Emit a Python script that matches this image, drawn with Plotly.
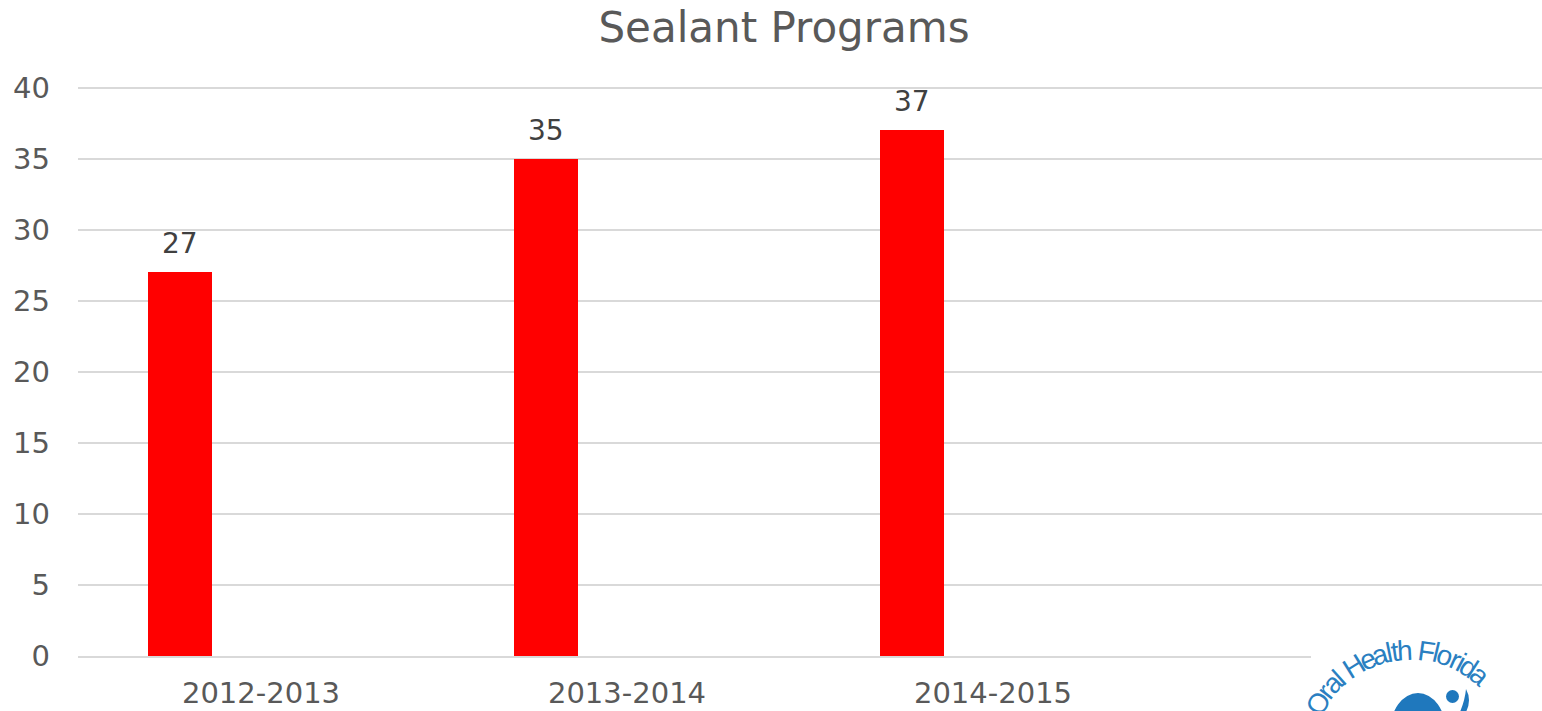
import math
import plotly.graph_objects as go

categories = ["2012-2013", "2013-2014", "2014-2015"]
programs = [27, 35, 37]
y_ticks = [0, 5, 10, 15, 20, 25, 30, 35, 40]
title_text = "Sealant Programs"
logo_text = "Oral Health Florida"

W, H = 1542, 711
L, T, B = 78, 85, 55
PW, PH = W - L, H - T - B
YMAX = 40.2

def px(x):
    return (x - L) / PW

def py(y):
    return (H - B - y) / PH

fig = go.Figure()
fig.add_trace(go.Bar(
    x=categories, y=programs,
    marker=dict(color="#ff0000", line=dict(width=0)),
    width=64 / 366, offset=-113 / 366,
    hoverinfo="x+y",
))

annotations = []
for c, v in zip(categories, programs):
    annotations.append(dict(
        x=c, y=v, xref="x", yref="y", text=str(v), showarrow=False,
        xshift=-81, yanchor="bottom", yshift=10,
        font=dict(family="DejaVu Sans", size=28, color="#404040"),
    ))

# logo text along an arc
widths = {"O": .778, "r": .333, "a": .556, "l": .222, " ": .278, "H": .722,
          "e": .556, "t": .278, "h": .556, "F": .611, "o": .556, "i": .222, "d": .556}
cx, cy, rad = 1411, 758, 108
fs = 28
ws = [widths.get(ch, .5) * 0.865 * fs for ch in logo_text]
a0 = -64.4
acc = 0
for ch, w in zip(logo_text, ws):
    mid = acc + w / 2
    acc += w
    if ch == " ":
        continue
    ang = a0 + math.degrees(mid / rad)
    xx = cx + rad * math.sin(math.radians(ang))
    yy = cy - rad * math.cos(math.radians(ang))
    annotations.append(dict(
        x=px(xx), y=py(yy), xref="paper", yref="paper", text=ch, showarrow=False,
        textangle=ang, xanchor="center", yanchor="middle",
        font=dict(family="Liberation Sans", size=fs, color="#2a7fc1"),
    ))

blue = "#1f78bd"
shapes = [
    dict(type="rect", xref="paper", yref="paper", x0=px(1311), x1=px(1545),
         y0=py(720), y1=py(628), fillcolor="white", line=dict(width=0), layer="above"),
    dict(type="circle", xref="paper", yref="paper", x0=px(1390), x1=px(1446),
         y0=py(770), y1=py(693), fillcolor=blue, line=dict(width=0), layer="above"),
    dict(type="circle", xref="paper", yref="paper", x0=px(1446), x1=px(1459),
         y0=py(703), y1=py(690), fillcolor=blue, line=dict(width=0), layer="above"),
    dict(type="path", xref="paper", yref="paper",
         path=(f"M {px(1466)},{py(689)} Q {px(1472)},{py(700)} {px(1466)},{py(712)} "
               f"L {px(1460)},{py(712)} Q {px(1465)},{py(700)} {px(1466)},{py(689)} Z"),
         fillcolor=blue, line=dict(width=0), layer="above"),
]

fig.update_layout(
    width=W, height=H,
    margin=dict(l=L, r=0, t=T, b=B),
    paper_bgcolor="white", plot_bgcolor="white",
    showlegend=False,
    title=dict(text=title_text, x=784 / W, xref="container", xanchor="center",
               y=1 - 27 / H, yref="container", yanchor="middle",
               font=dict(family="DejaVu Sans", size=42, color="#595959")),
    xaxis=dict(range=[-0.5, 3.5], showgrid=False, showline=True, linecolor="#d9d9d9",
               linewidth=1.5, ticks="", tickfont=dict(family="DejaVu Sans", size=29, color="#595959"),
               ticklabelstandoff=10, fixedrange=True),
    yaxis=dict(range=[0, YMAX], tickvals=y_ticks, showgrid=True, gridcolor="#d9d9d9",
               gridwidth=1.5, zeroline=False, showline=False, ticks="",
               tickfont=dict(family="DejaVu Sans", size=29, color="#595959"),
               ticklabelstandoff=27, fixedrange=True),
    bargap=0,
    annotations=annotations,
    shapes=shapes,
)

fig.write_html("out.html", config={"displayModeBar": False},
               post_script="document.body.style.margin='0';")
